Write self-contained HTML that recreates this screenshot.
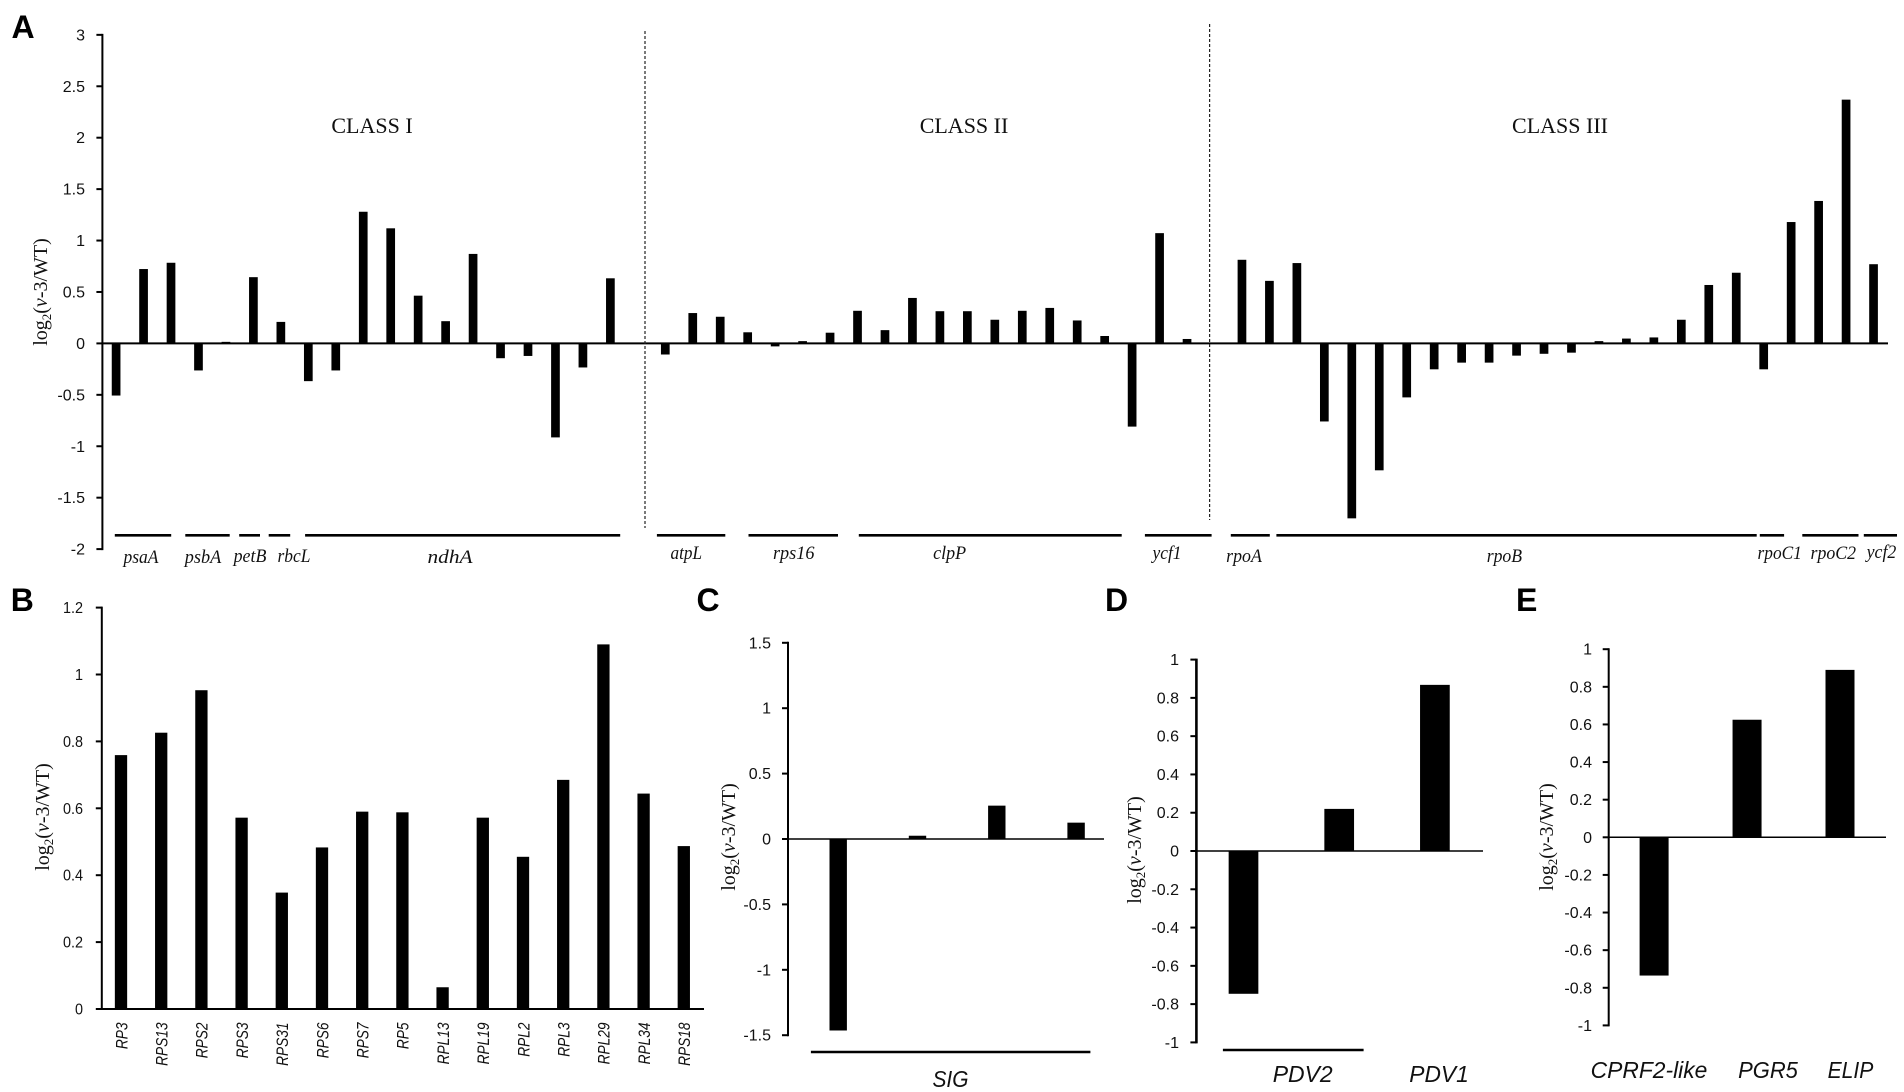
<!DOCTYPE html>
<html lang="en">
<head>
<meta charset="utf-8">
<title>log2(v-3/WT) transcript changes</title>
<style>
html,body{margin:0;padding:0;background:#fff;}
svg{display:block;}
.letter{font-family:"Liberation Sans",sans-serif;font-weight:700;font-size:32px;fill:#000;}
.klass{font-family:"Liberation Serif",serif;font-size:22px;fill:#111;text-anchor:middle;}
.gene{font-family:"Liberation Serif",serif;font-style:italic;font-size:19px;fill:#111;text-anchor:middle;}
.big{font-family:"Liberation Sans",sans-serif;font-style:italic;font-size:23px;fill:#111;text-anchor:middle;}
.tick{font-family:"Liberation Sans",sans-serif;font-size:16px;fill:#111;text-anchor:end;}
.ytitle{font-family:"Liberation Serif",serif;font-size:20px;fill:#111;text-anchor:middle;}
.cat{font-family:"Liberation Sans",sans-serif;font-style:italic;font-size:16.5px;fill:#111;text-anchor:end;}
</style>
</head>
<body>
<svg id="figure" xmlns="http://www.w3.org/2000/svg" width="1904" height="1092" viewBox="0 0 1904 1092">
  <rect x="0" y="0" width="1904" height="1092" fill="#fff"/>

  <text class="letter" x="11.5" y="38">A</text>
  <text class="letter" x="10.7" y="611">B</text>
  <text class="letter" x="696.5" y="611">C</text>
  <text class="letter" x="1105" y="611">D</text>
  <text class="letter" x="1516" y="611">E</text>

  <g id="panel-a"></g>
  <g id="panel-b"></g>
  <g id="panel-c"></g>
  <g id="panel-d"></g>
  <g id="panel-e"></g>

  <text class="klass" x="372" y="133">CLASS I</text>
  <text class="klass" x="964" y="133">CLASS II</text>
  <text class="klass" x="1560" y="133">CLASS III</text>

  <line x1="645" y1="31" x2="645" y2="528" stroke="#222" stroke-width="1.2" stroke-dasharray="3 2"/>
  <line x1="1209.6" y1="24" x2="1209.6" y2="520" stroke="#222" stroke-width="1.2" stroke-dasharray="3 2"/>

  <g stroke="#000" stroke-width="2.6">
    <line x1="114.8" y1="535.3" x2="171.2" y2="535.3"/>
    <line x1="185.3" y1="535.3" x2="229.7" y2="535.3"/>
    <line x1="239.2" y1="535.3" x2="260" y2="535.3"/>
    <line x1="268.7" y1="535.3" x2="290.2" y2="535.3"/>
    <line x1="305.1" y1="535.3" x2="620.2" y2="535.3"/>
    <line x1="656.9" y1="535.3" x2="725.3" y2="535.3"/>
    <line x1="748.5" y1="535.3" x2="838" y2="535.3"/>
    <line x1="858.8" y1="535.3" x2="1121.7" y2="535.3"/>
    <line x1="1144.9" y1="535.3" x2="1211.6" y2="535.3"/>
    <line x1="1230.8" y1="535.3" x2="1269.8" y2="535.3"/>
    <line x1="1276.4" y1="535.3" x2="1756.7" y2="535.3"/>
    <line x1="1759.8" y1="535.3" x2="1784.1" y2="535.3"/>
    <line x1="1802.3" y1="535.3" x2="1858.5" y2="535.3"/>
    <line x1="1863.8" y1="535.3" x2="1897" y2="535.3"/>
    <line x1="810.9" y1="1052" x2="1090.4" y2="1052"/>
    <line x1="1222.9" y1="1050" x2="1363.6" y2="1050"/>
  </g>

  <text class="gene" x="141" y="563" textLength="35" lengthAdjust="spacingAndGlyphs">psaA</text>
  <text class="gene" x="203" y="563" textLength="36.5" lengthAdjust="spacingAndGlyphs">psbA</text>
  <text class="gene" x="250" y="562" textLength="32.8" lengthAdjust="spacingAndGlyphs">petB</text>
  <text class="gene" x="294" y="562" textLength="33" lengthAdjust="spacingAndGlyphs">rbcL</text>
  <text class="gene" x="450" y="563" textLength="45" lengthAdjust="spacingAndGlyphs">ndhA</text>
  <text class="gene" x="686.3" y="559" textLength="31.5" lengthAdjust="spacingAndGlyphs">atpL</text>
  <text class="gene" x="793.7" y="559" textLength="41.5" lengthAdjust="spacingAndGlyphs">rps16</text>
  <text class="gene" x="949.6" y="559" textLength="33" lengthAdjust="spacingAndGlyphs">clpP</text>
  <text class="gene" x="1167" y="559" textLength="29" lengthAdjust="spacingAndGlyphs">ycf1</text>
  <text class="gene" x="1244" y="562" textLength="35.7" lengthAdjust="spacingAndGlyphs">rpoA</text>
  <text class="gene" x="1504.4" y="562" textLength="35.4" lengthAdjust="spacingAndGlyphs">rpoB</text>
  <text class="gene" x="1779.7" y="559" textLength="44.3" lengthAdjust="spacingAndGlyphs">rpoC1</text>
  <text class="gene" x="1833.3" y="559" textLength="45.6" lengthAdjust="spacingAndGlyphs">rpoC2</text>
  <text class="gene" x="1881.5" y="558" textLength="29.7" lengthAdjust="spacingAndGlyphs">ycf2</text>

  <text class="big" x="950.5" y="1087" textLength="36" lengthAdjust="spacingAndGlyphs">SIG</text>
  <text class="big" x="1302.7" y="1082" textLength="60" lengthAdjust="spacingAndGlyphs">PDV2</text>
  <text class="big" x="1439" y="1082" textLength="59.5" lengthAdjust="spacingAndGlyphs">PDV1</text>
  <text class="big" x="1649" y="1078" textLength="116.7" lengthAdjust="spacingAndGlyphs">CPRF2-like</text>
  <text class="big" x="1768" y="1078" textLength="59.8" lengthAdjust="spacingAndGlyphs">PGR5</text>
  <text class="big" x="1850.5" y="1078" textLength="45.8" lengthAdjust="spacingAndGlyphs">ELIP</text>
</svg>

<script>
// Panel A: one value per slot, null marks an empty slot between classes
const panelAValues = [
  -0.507, 0.723, 0.784, -0.263, 0.015, 0.644, 0.209, -0.367, -0.263, 1.28,
  1.119, 0.464, 0.216, 0.87, -0.144, -0.122, -0.914, -0.234, 0.633, null,
  -0.108, 0.295, 0.259, 0.108, -0.029, 0.022, 0.104, 0.317, 0.129, 0.442,
  0.313, 0.313, 0.23, 0.317, 0.345, 0.223, 0.072, -0.809, 1.072, 0.043, null,
  0.813, 0.608, 0.781, -0.759, -1.701, -1.234, -0.525, -0.252, -0.187, -0.187,
  -0.119, -0.101, -0.09, 0.022, 0.047, 0.058, 0.23, 0.568, 0.687, -0.252,
  1.18, 1.385, 2.37, 0.77
];
const panelATicks = [3, 2.5, 2, 1.5, 1, 0.5, 0, -0.5, -1, -1.5, -2];

// Panel B
const panelBCategories = ["RP3","RPS13","RPS2","RPS3","RPS31","RPS6","RPS7","RP5","RPL13","RPL19","RPL2","RPL3","RPL29","RPL34","RPS18"];
const panelBValues = [0.759, 0.826, 0.953, 0.572, 0.348, 0.483, 0.59, 0.588, 0.065, 0.572, 0.455, 0.685, 1.09, 0.644, 0.487];
const panelBTicks = [1.2, 1, 0.8, 0.6, 0.4, 0.2, 0];

// Panel C
const panelCValues = [-1.464, 0.025, 0.255, 0.125];
const panelCTicks = [1.5, 1, 0.5, 0, -0.5, -1, -1.5];

// Panel D
const panelDValues = [-0.746, 0.22, 0.868];
const panelDTicks = [1, 0.8, 0.6, 0.4, 0.2, 0, -0.2, -0.4, -0.6, -0.8, -1];

// Panel E
const panelEValues = [-0.735, 0.625, 0.89];
const panelETicks = [1, 0.8, 0.6, 0.4, 0.2, 0, -0.2, -0.4, -0.6, -0.8, -1];

const SVGNS = "http://www.w3.org/2000/svg";

function make(tag, props, parent) {
  const node = document.createElementNS(SVGNS, tag);
  for (const k in props) node.setAttribute(k, props[k]);
  parent.appendChild(node);
  return node;
}

function drawPanel(cfg) {
  const host = document.getElementById(cfg.id);
  const yScale = v => cfg.zeroY - v * cfg.pxPerUnit;
  const xScale = i => cfg.firstX + i * cfg.stepX;
  const top = yScale(Math.max.apply(null, cfg.ticks));
  const bottom = yScale(Math.min.apply(null, cfg.ticks));

  cfg.values.forEach(function (v, i) {
    if (v === null) return;
    const y0 = yScale(0), y1 = yScale(v);
    const bar = make("rect", {
      x: xScale(i) - cfg.barW / 2,
      y: Math.min(y0, y1),
      width: cfg.barW,
      height: Math.abs(y1 - y0),
      fill: "#000"
    }, host);
    
    
  });

  const yAxis = make("line", {
    x1: cfg.axisX, x2: cfg.axisX, y1: top - 1, y2: bottom + 1,
    stroke: "#000", "stroke-width": cfg.axisW
  }, host);
  
  

  const zero = make("line", {
    x1: cfg.axisX, x2: cfg.zeroEnd, y1: yScale(0), y2: yScale(0),
    stroke: "#000", "stroke-width": cfg.zeroW
  }, host);
  
  

  cfg.ticks.forEach(function (t) {
    const y = yScale(t);
    const mark = make("line", {
      x1: cfg.axisX - 6, x2: cfg.axisX, y1: y, y2: y,
      stroke: "#000", "stroke-width": 2
    }, host);
    
    

    const label = make("text", {
      class: "tick",
      transform: "translate(" + cfg.tickRight + "," + (y + 5.5) + ") scale(" + cfg.tickScale + ",1)"
    }, host);
    
    
    label.textContent = String(t);
  });

  const title = make("text", {
    class: "ytitle",
    transform: "translate(" + cfg.titleX + "," + cfg.titleY + ") rotate(-90)"
  }, host);
  
  
  title.appendChild(document.createTextNode("log"));
  const sub = make("tspan", { "font-size": "13", dy: "4" }, title);
  sub.textContent = "2";
  const open = make("tspan", { dy: "-4" }, title);
  open.textContent = "(";
  const mut = make("tspan", { "font-style": "italic" }, title);
  mut.textContent = "v";
  title.appendChild(document.createTextNode("-3/WT)"));

  if (cfg.categories) {
    cfg.categories.forEach(function (c, i) {
      const cat = make("text", {
        class: "cat",
        transform: "translate(" + (xScale(i) + 6.3) + ",1022.5) rotate(-90) scale(0.83,1)"
      }, host);
      
      
      cat.textContent = c;
    });
  }
}

drawPanel({ id: "panel-a", values: panelAValues, ticks: panelATicks,
  zeroY: 343.4, pxPerUnit: 102.85, firstX: 116.1, stepX: 27.46, barW: 8.7,
  axisX: 102.4, axisW: 2, zeroEnd: 1888, zeroW: 2, tickRight: 85, tickScale: 1, titleX: 47, titleY: 292 });

drawPanel({ id: "panel-b", values: panelBValues, ticks: panelBTicks, categories: panelBCategories,
  zeroY: 1009, pxPerUnit: 334.5, firstX: 121, stepX: 40.2, barW: 12.3,
  axisX: 101.8, axisW: 2, zeroEnd: 704, zeroW: 2, tickRight: 83, tickScale: 0.9, titleX: 49, titleY: 817 });

drawPanel({ id: "panel-c", values: panelCValues, ticks: panelCTicks,
  zeroY: 839, pxPerUnit: 130.8, firstX: 838.2, stepX: 79.3, barW: 17.4,
  axisX: 788, axisW: 2, zeroEnd: 1104, zeroW: 1.5, tickRight: 771, tickScale: 1, titleX: 735, titleY: 837 });

drawPanel({ id: "panel-d", values: panelDValues, ticks: panelDTicks,
  zeroY: 851, pxPerUnit: 191.4, firstX: 1243.5, stepX: 95.7, barW: 29.7,
  axisX: 1196.4, axisW: 2.6, zeroEnd: 1483, zeroW: 1.4, tickRight: 1179, tickScale: 1, titleX: 1141, titleY: 850 });

drawPanel({ id: "panel-e", values: panelEValues, ticks: panelETicks,
  zeroY: 837.3, pxPerUnit: 188.1, firstX: 1654.1, stepX: 92.95, barW: 29,
  axisX: 1608.7, axisW: 2, zeroEnd: 1886, zeroW: 1.5, tickRight: 1592, tickScale: 1, titleX: 1553, titleY: 837 });
</script>
</body>
</html>
